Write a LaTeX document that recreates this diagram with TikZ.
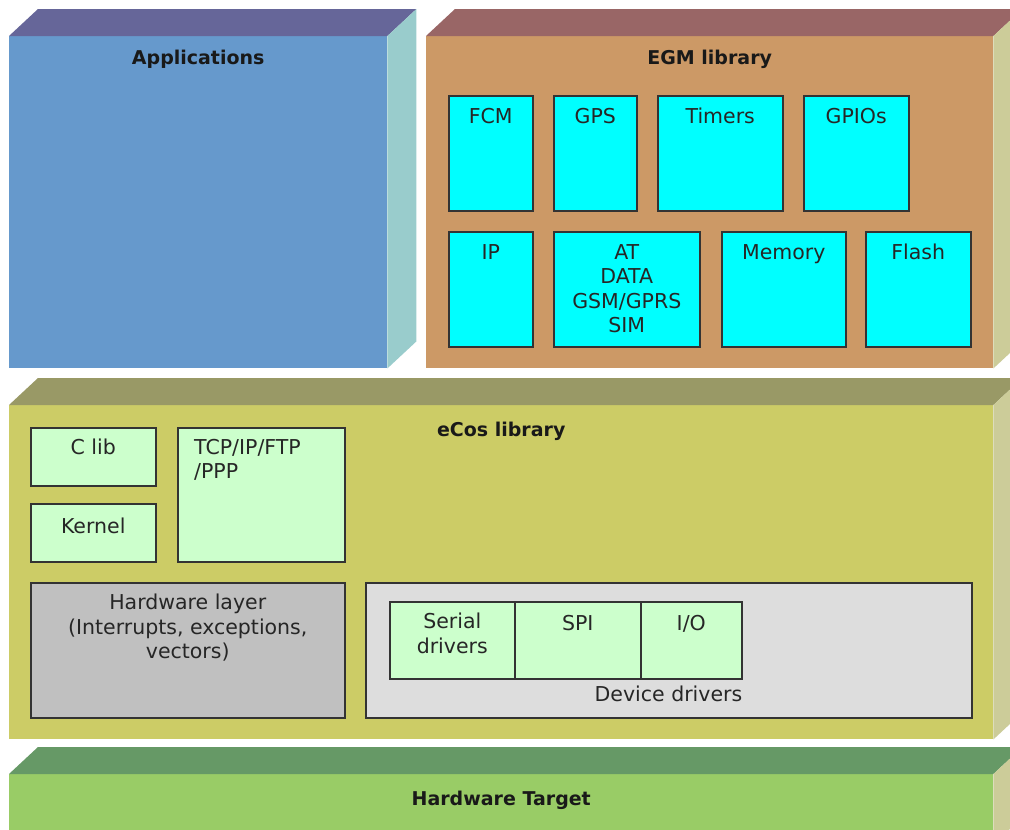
\documentclass[tikz,border=0pt]{standalone}
\usepackage{fontspec}
\setmainfont{DejaVu Sans}
\usetikzlibrary{calc}

\definecolor{appFront}{HTML}{6699CC}
\definecolor{appTop}{HTML}{666699}
\definecolor{appSide}{HTML}{99CCCC}
\definecolor{egmFront}{HTML}{CC9966}
\definecolor{egmTop}{HTML}{996666}
\definecolor{ecosFront}{HTML}{CCCC66}
\definecolor{ecosTop}{HTML}{999966}
\definecolor{hwtFront}{HTML}{99CC66}
\definecolor{hwtTop}{HTML}{669966}
\definecolor{tanSide}{HTML}{CCCC99}
\definecolor{modCyan}{HTML}{00FFFF}
\definecolor{modMint}{HTML}{CCFFCC}
\definecolor{hwGray}{HTML}{C0C0C0}
\definecolor{drvGray}{HTML}{DDDDDD}

\tikzset{
  front/.style={draw=none, inner sep=0pt, anchor=north west},
  title/.style={font=\fontsize{19}{22}\selectfont\bfseries, text=black!90},
  module/.style={draw=black!80, line width=1.5pt, inner sep=0pt, anchor=north west},
  modtext/.style={inner sep=0pt, align=center, text=black!85,
    font=\fontsize{20.5}{24.5}\selectfont},
}

\begin{document}
\begin{tikzpicture}[x=1pt,y=-1pt]
  % canvas
  \clip (0,0) rectangle (1010,830);
  \fill[white] (0,0) rectangle (1010,830);
  % depth of the 3D blocks
  \def\dx{29}
  \def\dy{27}

  % front faces of the blocks
  \node[front, fill=appFront, minimum width=378pt, minimum height=332pt] (apps) at (9,36) {};
  \node[front, fill=egmFront, minimum width=567pt, minimum height=332pt] (egm) at (426,36) {};
  \node[front, fill=ecosFront, minimum width=984pt, minimum height=334pt] (ecos) at (9,405) {};
  \node[front, fill=hwtFront, minimum width=984pt, minimum height=70pt] (hwt) at (9,774) {};

  % top and side faces
  \foreach \blk/\topc/\sidec in {apps/appTop/appSide, egm/egmTop/tanSide,
      ecos/ecosTop/tanSide, hwt/hwtTop/tanSide}{
      \fill[\topc] (\blk.north west) -- ++(\dx,-\dy)
        -- ($(\blk.north east)+(\dx,-\dy)$) -- (\blk.north east) -- cycle;
      \fill[\sidec] (\blk.north east) -- ++(\dx,-\dy)
        -- ($(\blk.south east)+(\dx,-\dy)$) -- (\blk.south east) -- cycle;
    }

  % block titles
  \node[title] (apps-title) at ($(apps.north)+(0,23)$) {Applications};
  \node[title] (egm-title) at ($(egm.north)+(0,23)$) {EGM library};
  \node[title] (ecos-title) at ($(ecos.north)+(0,26)$) {eCos library};
  \node[title] (hwt-title) at ($(hwt.north)+(0,26)$) {Hardware Target};

  % EGM modules
  \foreach \nm/\x/\y/\w/\txt in {fcm/448/95/84/FCM, gps/553/95/83/GPS,
      timers/657/95/125/Timers, gpios/803/95/105/GPIOs,
      ip/448/231/84/IP, at/553/231/146/{AT\\DATA\\GSM/GPRS\\SIM},
      memory/721/231/124/Memory, flash/865/231/105/Flash}{
      \node[module, fill=modCyan, minimum width=\w pt, minimum height=115pt] (\nm) at (\x,\y) {};
      \node[modtext, anchor=north] (\nm-t) at ([yshift=-13pt]\nm.north) {\txt};
    }

  % eCos modules
  \node[module, fill=modMint, minimum width=125pt, minimum height=58pt] (clib) at (30,427) {};
  \node[modtext, anchor=north] (clib-t) at ([yshift=-12pt]clib.north) {C lib};
  \node[module, fill=modMint, minimum width=125pt, minimum height=58pt] (kernel) at (30,503) {};
  \node[modtext, anchor=north] (kernel-t) at ([yshift=-15pt]kernel.north) {Kernel};
  \node[module, fill=modMint, minimum width=167pt, minimum height=134pt] (tcpip) at (177,427) {};
  \node[modtext, anchor=north west, align=left] (tcpip-t) at ([xshift=17pt,yshift=-12pt]tcpip.north west) {TCP/IP/FTP\\/PPP};

  \node[module, fill=hwGray, minimum width=314pt, minimum height=135pt] (hwlayer) at (30,582) {};
  \node[modtext, anchor=north] (hwlayer-t) at ([yshift=-12pt]hwlayer.north) {Hardware layer\\(Interrupts, exceptions,\\vectors)};

  % device drivers
  \node[module, fill=drvGray, minimum width=606pt, minimum height=135pt] (devdrv) at (365,582) {};
  \node[module, fill=modMint, minimum width=125pt, minimum height=77pt] (serial) at (389,601) {};
  \node[module, fill=modMint, minimum width=126pt, minimum height=77pt] (spi) at (514,601) {};
  \node[module, fill=modMint, minimum width=101pt, minimum height=77pt] (io) at (640,601) {};
  \node[modtext, anchor=north] (serial-t) at ([yshift=-12pt]serial.north) {Serial\\drivers};
  \node[modtext, anchor=north] (spi-t) at ([yshift=-14pt]spi.north) {SPI};
  \node[modtext, anchor=north] (io-t) at ([yshift=-14pt]io.north) {I/O};
  \node[modtext, anchor=north east] (devdrv-t) at ([yshift=-6pt]io.south east) {Device drivers};
\end{tikzpicture}
\end{document}
